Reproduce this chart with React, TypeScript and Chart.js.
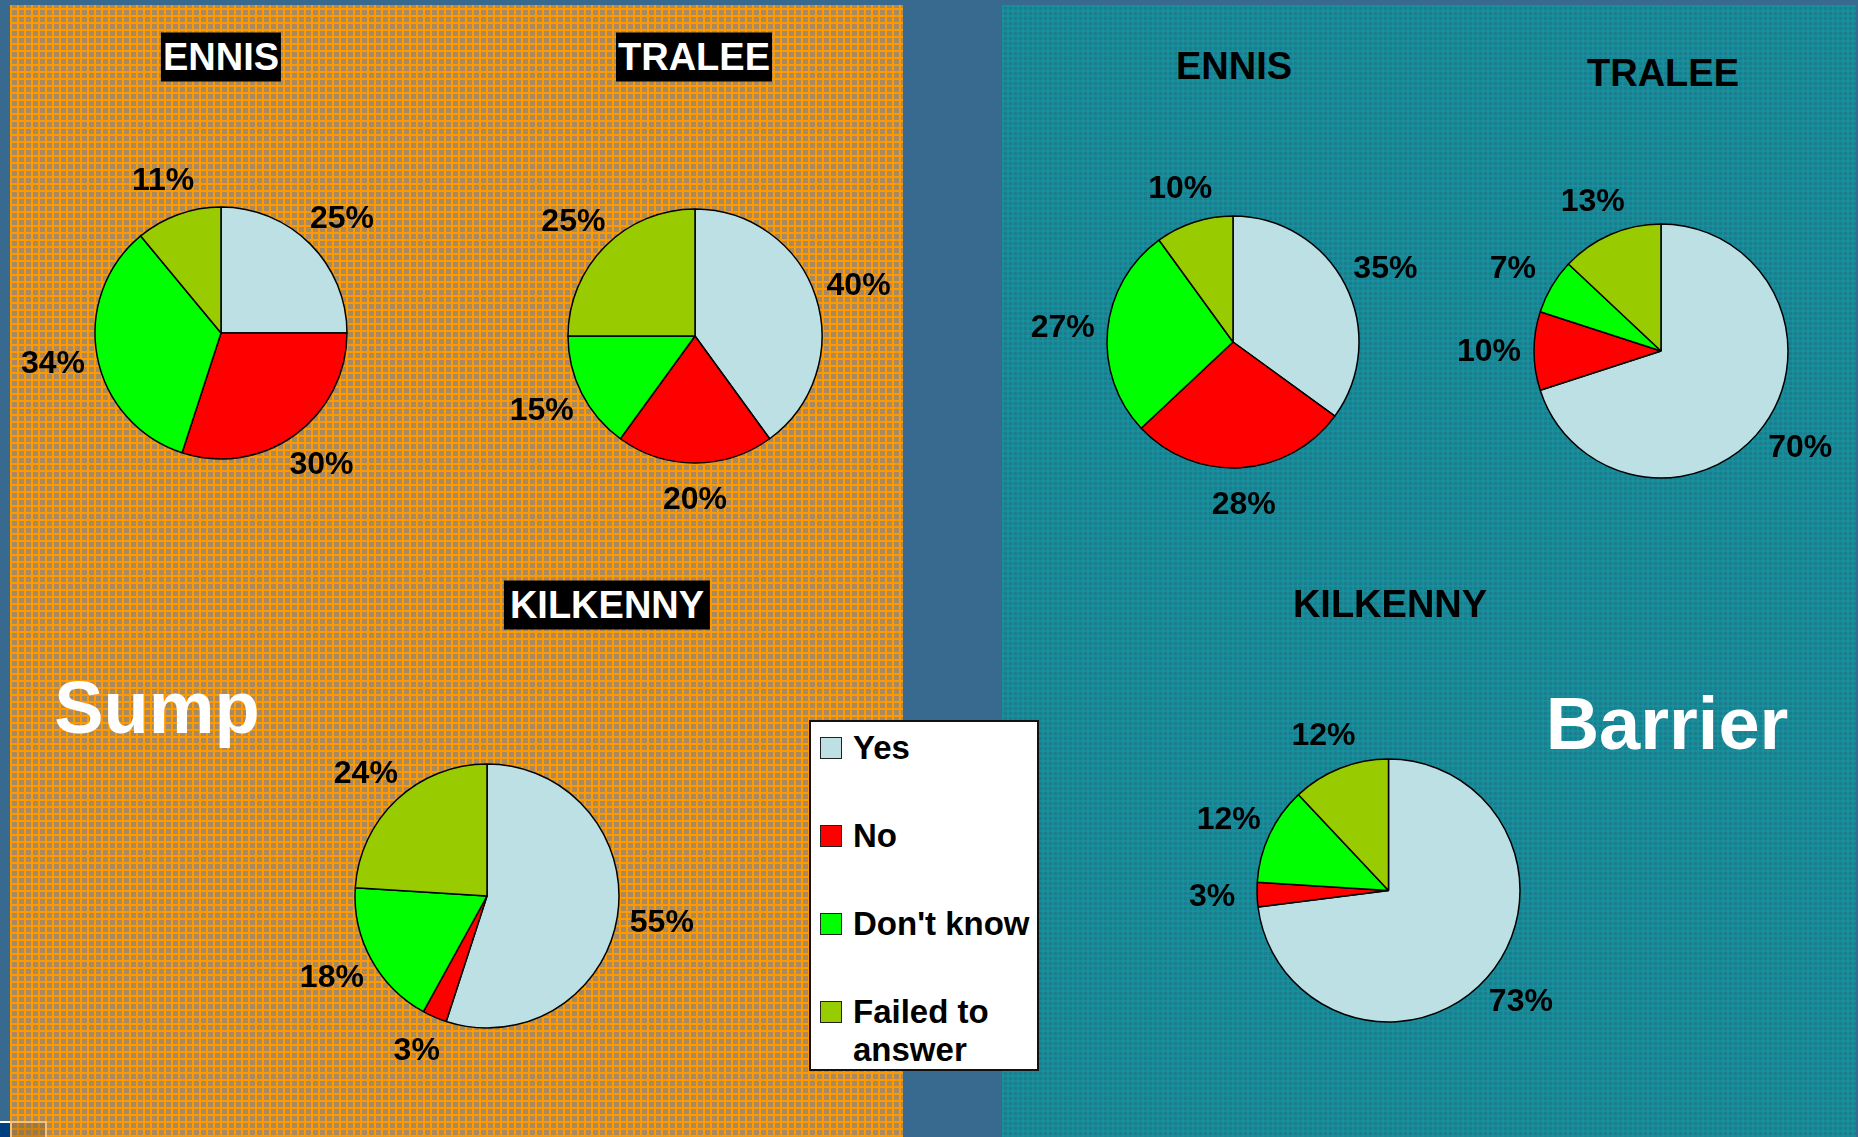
import React, { useEffect, useRef } from "react";
import { Chart, registerables } from "chart.js";

Chart.register(...registerables);

const categories = ["Yes", "No", "Don't know", "Failed to answer"];
const colors = ["#bde0e4", "#ff0000", "#00ff00", "#99cc00"];

const sumpEnnis = [25, 30, 34, 11];
const sumpTralee = [40, 20, 15, 25];
const sumpKilkenny = [55, 3, 18, 24];
const barrierEnnis = [35, 28, 27, 10];
const barrierTralee = [70, 10, 7, 13];
const barrierKilkenny = [73, 3, 12, 12];

const FONT = '"Liberation Sans", Arial, Helvetica, sans-serif';

type PieSpec = { values: number[]; cx: number; cy: number; r: number };

const pies: PieSpec[] = [
  { values: sumpEnnis, cx: 220.5, cy: 332.5, r: 126 },
  { values: sumpTralee, cx: 694.5, cy: 335.5, r: 127 },
  { values: sumpKilkenny, cx: 487, cy: 896, r: 132 },
  { values: barrierEnnis, cx: 1233, cy: 342, r: 126 },
  { values: barrierTralee, cx: 1661, cy: 351, r: 127 },
  { values: barrierKilkenny, cx: 1388, cy: 890.5, r: 131.5 },
];

const labelPlugin = {
  id: "pctLabels",
  afterDatasetsDraw(chart: any) {
    const ctx = chart.ctx;
    const meta = chart.getDatasetMeta(0);
    const data = chart.data.datasets[0].data;
    ctx.save();
    ctx.font = `bold 32px ${FONT}`;
    ctx.fillStyle = "#000";
    ctx.textAlign = "center";
    ctx.textBaseline = "middle";
    meta.data.forEach((arc: any, i: number) => {
      const p = arc.getProps(["x", "y", "startAngle", "endAngle", "outerRadius"], true);
      const mid = (p.startAngle + p.endAngle) / 2;
      const dx = p.outerRadius + 45;
      const dy = p.outerRadius + 36;
      ctx.fillText(`${data[i]}%`, p.x + Math.cos(mid) * dx, p.y + Math.sin(mid) * dy + 1);
    });
    ctx.restore();
  },
};

function Pie({ spec }: { spec: PieSpec }) {
  const ref = useRef<HTMLCanvasElement>(null);
  const size = Math.round(2 * (spec.r + 110));
  useEffect(() => {
    if (!ref.current) return;
    const chart = new Chart(ref.current, {
      type: "pie",
      data: {
        labels: categories,
        datasets: [
          {
            data: spec.values,
            backgroundColor: colors,
            borderColor: "#000",
            borderWidth: 1.5,
          },
        ],
      },
      options: {
        responsive: false,
        animation: false,
        devicePixelRatio: 1,
        radius: spec.r,
        layout: { padding: 0 },
        plugins: { legend: { display: false }, tooltip: { enabled: false }, title: { display: false } },
        events: [],
      } as any,
      plugins: [labelPlugin],
    });
    return () => chart.destroy();
  }, []);
  return (
    <canvas
      ref={ref}
      width={size}
      height={size}
      style={{
        position: "absolute",
        left: spec.cx - size / 2,
        top: spec.cy - size / 2,
        width: size,
        height: size,
      }}
    />
  );
}

function Text({
  x,
  y,
  text,
  size,
  color,
  bg,
  pad,
}: {
  x: number;
  y: number;
  text: string;
  size: number;
  color: string;
  bg?: string;
  pad?: number;
}) {
  return (
    <div
      style={{
        position: "absolute",
        left: x,
        top: y,
        transform: "translate(-50%, -50%)",
        font: `bold ${size}px ${FONT}`,
        color,
        background: bg,
        padding: bg ? `0 ${pad ?? 2}px` : 0,
        lineHeight: bg ? "49px" : "normal",
        whiteSpace: "nowrap",
      }}
    >
      {text}
    </div>
  );
}

export default function App() {
  useEffect(() => {
    document.body.style.margin = "0";
  }, []);

  const orangeBg = {
    backgroundColor: "#a88a62",
    backgroundImage:
      "repeating-linear-gradient(0deg, #ff9900 0px, #ff9900 2px, transparent 2px, transparent 7px), repeating-linear-gradient(90deg, #ff9900 0px, #ff9900 2px, transparent 2px, transparent 7px)",
  };
  const tealBg = {
    backgroundColor: "#1d7d8f",
    backgroundImage:
      "repeating-linear-gradient(0deg, rgba(20,150,160,0.6) 0px, rgba(20,150,160,0.6) 2px, transparent 2px, transparent 5px), repeating-linear-gradient(90deg, rgba(20,150,160,0.6) 0px, rgba(20,150,160,0.6) 2px, transparent 2px, transparent 5px)",
  };

  return (
    <div
      style={{
        position: "relative",
        width: 1858,
        height: 1137,
        background: "#376a8e",
        overflow: "hidden",
      }}
    >
      <div style={{ position: "absolute", left: 10, top: 5, width: 893, height: 1132, ...orangeBg }} />
      <div style={{ position: "absolute", left: 1002, top: 5, width: 854, height: 1132, ...tealBg }} />
      <div style={{ position: "absolute", left: 0, top: 1121, width: 10, height: 2, background: "#fff" }} />
      <div style={{ position: "absolute", left: 0, top: 1123, width: 10, height: 14, background: "#004080" }} />
      <div
        style={{
          position: "absolute",
          left: 10,
          top: 1121,
          width: 33,
          height: 20,
          border: "2px solid #f6c27a",
          background: "rgba(120,90,40,0.35)",
        }}
      />

      {pies.map((p, i) => (
        <Pie key={i} spec={p} />
      ))}

      <Text x={221} y={57} text="ENNIS" size={38} color="#fff" bg="#000" />
      <Text x={694} y={57} text="TRALEE" size={38} color="#fff" bg="#000" />
      <Text x={607} y={605} text="KILKENNY" size={38} color="#fff" bg="#000" pad={6} />

      <Text x={1234} y={66} text="ENNIS" size={38} color="#000" />
      <Text x={1663} y={73} text="TRALEE" size={38} color="#000" />
      <Text x={1390} y={604} text="KILKENNY" size={38} color="#000" />

      <Text x={157} y={707} text="Sump" size={74} color="#fff" />
      <Text x={1667} y={723} text="Barrier" size={74} color="#fff" />

      <div
        style={{
          position: "absolute",
          left: 809,
          top: 720,
          width: 226,
          height: 347,
          background: "#fff",
          border: "2px solid #111",
        }}
      >
        {categories.map((c, i) => (
          <div key={c} style={{ position: "absolute", left: 9, top: 15 + i * 88 }}>
            <div
              style={{
                position: "absolute",
                left: 0,
                top: 0,
                width: 20,
                height: 20,
                background: colors[i],
                border: "1px solid #222",
              }}
            />
            <div
              style={{
                position: "absolute",
                left: 33,
                top: -8,
                width: 190,
                font: `bold 33px ${FONT}`,
                lineHeight: "38px",
                color: "#000",
              }}
            >
              {c === "Failed to answer" ? (
                <>
                  Failed to
                  <br />
                  answer
                </>
              ) : (
                c
              )}
            </div>
          </div>
        ))}
      </div>
    </div>
  );
}
